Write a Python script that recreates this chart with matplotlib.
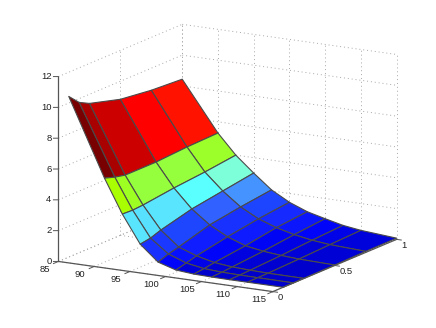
import matplotlib
matplotlib.use('Agg')
import numpy as np
import matplotlib.pyplot as plt
from matplotlib.colors import LinearSegmentedColormap, Normalize
from mpl_toolkits.mplot3d import proj3d

plt.rcParams['font.family'] = ['Liberation Sans', 'DejaVu Sans']

x_vals = [85, 90, 92.5, 95, 97.5, 100, 102.5, 105, 107.5, 110, 115]
y_vals = [0.0833, 0.1667, 0.25, 0.5, 0.75, 1.0]
# one row per x value, one column per y value
z_vals = [
    [10.43, 9.76, 9.41, 8.83, 8.57, 8.44],
    [5.45, 5.23, 5.08, 5.08, 5.21, 5.27],
    [3.28, 3.25, 3.30, 3.56, 3.75, 4.00],
    [1.49, 1.60, 1.84, 2.36, 2.68, 3.00],
    [0.49, 0.73, 0.90, 1.49, 1.81, 2.07],
    [0.14, 0.31, 0.49, 0.88, 1.20, 1.43],
    [0.04, 0.11, 0.22, 0.46, 0.79, 0.98],
    [0.01, 0.04, 0.10, 0.27, 0.50, 0.69],
    [0.00, 0.02, 0.05, 0.16, 0.30, 0.42],
    [0.00, 0.01, 0.02, 0.09, 0.18, 0.26],
    [0.00, 0.00, 0.01, 0.03, 0.07, 0.08],
]

x_ticks = [85, 90, 95, 100, 105, 110, 115]
y_ticks = [0, 0.5, 1]
y_tick_labels = ['0', '0.5', '1']
z_ticks = [0, 2, 4, 6, 8, 10, 12]

color_stops = [
    (0.0, (0, 0, 205)), (0.5, (0, 5, 250)), (1.0, (20, 35, 255)), (1.5, (25, 50, 255)),
    (1.84, (30, 70, 255)), (2.36, (50, 100, 255)), (2.68, (70, 150, 255)),
    (3.28, (90, 230, 255)), (3.56, (90, 255, 255)), (3.75, (125, 255, 220)),
    (5.08, (150, 255, 60)), (5.45, (170, 255, 0)), (8.57, (255, 20, 0)),
    (8.83, (255, 0, 0)), (9.41, (205, 0, 0)), (9.76, (170, 0, 0)), (10.43, (120, 0, 0)),
]

AXIS_COLOR = '#555555'
GRID_COLOR = '#a8a8a8'
GRID_STYLE = (0, (1, 3))
TEXT_COLOR = '#222222'
FONT_SIZE = 6.8
PX = 0.72  # offset points per pixel at dpi 100

z_top = color_stops[-1][0]
surf_cmap = LinearSegmentedColormap.from_list(
    'surf', [(z / z_top, tuple(c / 255 for c in rgb)) for z, rgb in color_stops])

fig = plt.figure(figsize=(4.36, 3.28), dpi=100)
ax = fig.add_axes([28.8 / 436, -28.7 / 328, 387 / 436, 387 / 328], projection='3d',
                  proj_type='ortho')
ax.computed_zorder = False
ax.set_box_aspect((1, 1, 0.77))
ax.view_init(elev=14.1, azim=-60)
ax.set_xlim(85, 115)
ax.set_ylim(0, 1)
ax.set_zlim(0, 12)
ax.set_axis_off()

x0, x1 = x_ticks[0], x_ticks[-1]
y0, y1 = y_ticks[0], y_ticks[-1]
z0, z1 = z_ticks[0], z_ticks[-1]


def tick_label(x, y, z, text, dx, dy, ha):
    # place a label next to a 3d point, offset in pixels
    px, py, _ = proj3d.proj_transform(x, y, z, ax.get_proj())
    ax.annotate(text, (px, py), xytext=(dx * PX, dy * PX), textcoords='offset points',
                fontsize=FONT_SIZE, color=TEXT_COLOR, ha=ha, va='center')


# dotted grid on the floor and the two back walls
for x in x_ticks:
    ax.plot([x, x], [y0, y1], [z0, z0], color=GRID_COLOR, lw=0.7, ls=GRID_STYLE, zorder=1)
    ax.plot([x, x], [y1, y1], [z0, z1], color=GRID_COLOR, lw=0.7, ls=GRID_STYLE, zorder=1)
for y in y_ticks:
    ax.plot([x0, x1], [y, y], [z0, z0], color=GRID_COLOR, lw=0.7, ls=GRID_STYLE, zorder=1)
    ax.plot([x0, x0], [y, y], [z0, z1], color=GRID_COLOR, lw=0.7, ls=GRID_STYLE, zorder=1)
for z in z_ticks:
    ax.plot([x0, x0], [y0, y1], [z, z], color=GRID_COLOR, lw=0.7, ls=GRID_STYLE, zorder=1)
    ax.plot([x0, x1], [y1, y1], [z, z], color=GRID_COLOR, lw=0.7, ls=GRID_STYLE, zorder=1)

X, Y = np.meshgrid(x_vals, y_vals, indexing='ij')
Z = np.array(z_vals)
face_colors = surf_cmap(Normalize(0, z_top)(Z))
surf = ax.plot_surface(X, Y, Z, facecolors=face_colors, rstride=1, cstride=1, shade=False,
                       linewidth=0.8, zorder=2)
surf.set_edgecolor('#4a4a4a')

# axis lines
ax.plot([x0, x1], [y0, y0], [z0, z0], color=AXIS_COLOR, lw=0.9, zorder=3)
ax.plot([x1, x1], [y0, y1], [z0, z0], color=AXIS_COLOR, lw=0.9, zorder=3)
ax.plot([x0, x0], [y0, y0], [z0, z1], color=AXIS_COLOR, lw=0.9, zorder=3)

# ticks and tick labels
for x in x_ticks:
    ax.plot([x, x], [y0, y0 - 0.04], [z0, z0], color=AXIS_COLOR, lw=0.7, zorder=3)
    tick_label(x, y0, z0, str(x), -14, -8, 'center')
for y, label in zip(y_ticks, y_tick_labels):
    ax.plot([x1, x1 + 0.65], [y, y], [z0, z0], color=AXIS_COLOR, lw=0.7, zorder=3)
    tick_label(x1, y, z0, label, 5, -6, 'left')
for z in z_ticks:
    ax.plot([x0, x0 - 0.52], [y0, y0 - 0.0103], [z, z], color=AXIS_COLOR, lw=0.7, zorder=3)
    tick_label(x0, y0, z, str(z), -7, 0, 'right')

fig.savefig('out.png', dpi=100)
